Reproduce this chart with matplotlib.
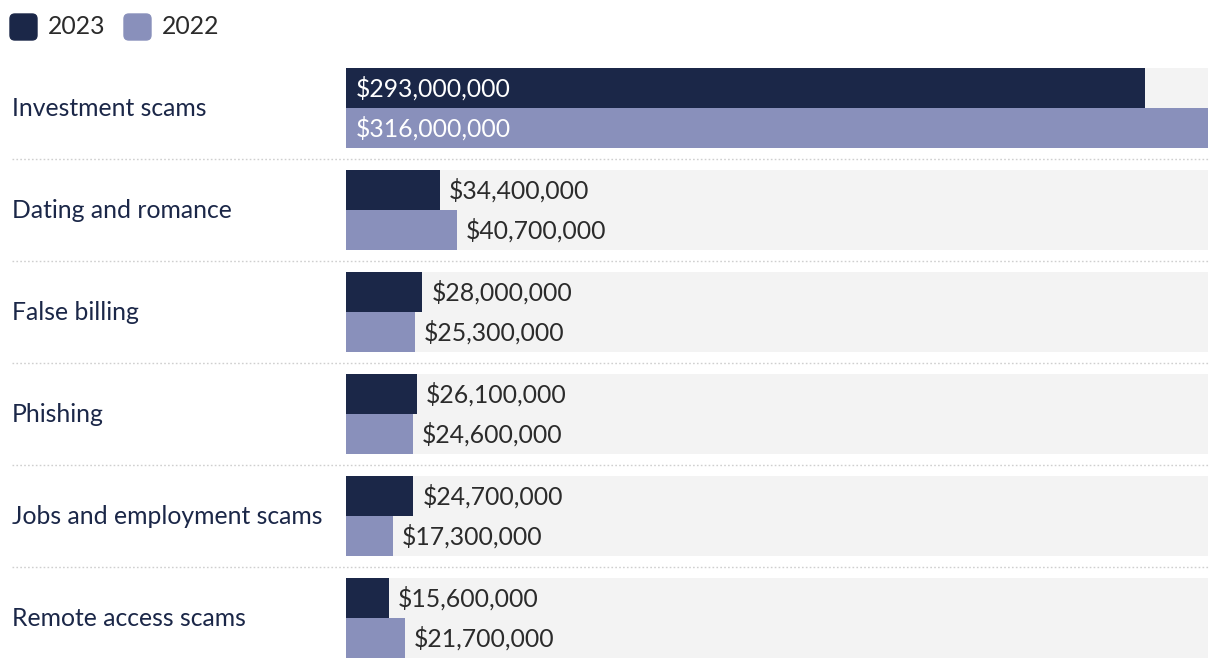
import matplotlib
matplotlib.use("Agg")
import matplotlib.pyplot as plt
from matplotlib.patches import FancyBboxPatch
from matplotlib.transforms import blended_transform_factory

categories = ["Investment scams", "Dating and romance", "False billing",
              "Phishing", "Jobs and employment scams", "Remote access scams"]
values_2023 = [293000000, 34400000, 28000000, 26100000, 24700000, 15600000]
values_2022 = [316000000, 40700000, 25300000, 24600000, 17300000, 21700000]
series_names = ["2023", "2022"]

C23 = "#1b2748"
C22 = "#8990bb"
BG = "#f3f3f3"
TXT = "#2b2b2b"
LBL = "#1b2748"
FONT = "Lato"
FS = 17.8

W, H = 1220, 668
fig = plt.figure(figsize=(W / 100, H / 100), dpi=100)
plt.rcParams['font.family'] = [FONT, 'DejaVu Sans']

# bar axes: pixel box x 346..1208, y 68..658
ax = fig.add_axes([346 / W, (H - 658) / H, 862 / W, 590 / H])
vmax = max(values_2022 + values_2023)
ax.set_xlim(0, vmax)
ax.set_ylim(590, 0)
ax.axis("off")

step, bh = 102, 40
trans_lab = blended_transform_factory(fig.transFigure, ax.transData)

for i, cat in enumerate(categories):
    top = i * step
    ax.barh(top + bh, vmax, height=2 * bh, left=0, color=BG, align="center", zorder=0)
    for j, (vals, col) in enumerate([(values_2023, C23), (values_2022, C22)]):
        yc = top + bh / 2 + j * bh
        v = vals[i]
        ax.barh(yc, v, height=bh, color=col, zorder=1)
        txt = f"${v:,.0f}"
        if v / vmax > 0.5:
            ax.annotate(txt, (0, yc), xytext=(10 * 0.72, 0), textcoords="offset points",
                        ha="left", va="center", color="white", fontsize=FS, zorder=3)
        else:
            ax.annotate(txt, (v, yc), xytext=(9 * 0.72, 0), textcoords="offset points",
                        ha="left", va="center", color=TXT, fontsize=FS, zorder=3)
    ax.text(12 / W, top + bh, cat, transform=trans_lab, ha="left", va="center",
            color=LBL, fontsize=FS)
    if i < len(categories) - 1:
        ysep = top + 2 * bh + 11
        ax.plot([12 / W, 1208 / W], [ysep, ysep], transform=trans_lab, color="#cfcfcf",
                lw=1, ls=(0, (1.2, 1.6)), clip_on=False)

# legend
for k, (name, col, x0) in enumerate([(series_names[0], C23, 10), (series_names[1], C22, 124)]):
    p = FancyBboxPatch((x0 / W, 1 - 40 / H), 27 / W, 26 / H,
                       boxstyle="round,pad=0,rounding_size=0.004",
                       transform=fig.transFigure, color=col, mutation_aspect=W / H)
    fig.patches.append(p)
    fig.text((x0 + 38) / W, 1 - 27 / H, name, ha="left", va="center", color=TXT, fontsize=FS)

fig.savefig("out.png", dpi=100, facecolor="white")
